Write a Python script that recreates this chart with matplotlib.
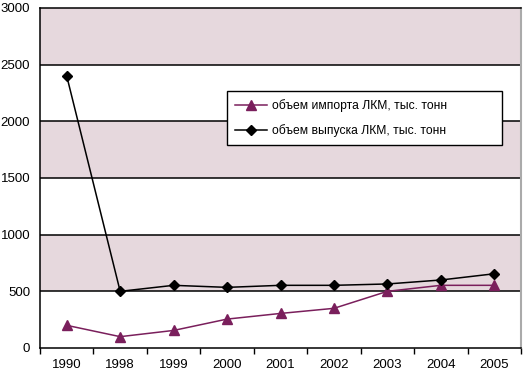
import matplotlib
matplotlib.use("Agg")
import matplotlib.pyplot as plt
from matplotlib import font_manager

years = ["1990", "1998", "1999", "2000", "2001", "2002", "2003", "2004", "2005"]
import_vals = [200, 100, 155, 255, 305, 350, 500, 553, 553]
output_vals = [2400, 500, 553, 535, 553, 553, 565, 600, 655]
import_label = "объем импорта ЛКМ, тыс. тонн"
output_label = "объем выпуска ЛКМ, тыс. тонн"
yticks = [0, 500, 1000, 1500, 2000, 2500, 3000]

names = {f.name for f in font_manager.fontManager.ttflist}
fam = "Liberation Sans Narrow" if "Liberation Sans Narrow" in names else "Liberation Sans"
plt.rcParams["font.family"] = [fam, "DejaVu Sans"]

fig = plt.figure(figsize=(5.24, 3.72), dpi=100)
top_px, bot_px = 8, 348
ax = fig.add_axes([40/524, (372 - bot_px)/372, 481/524, (bot_px - top_px)/372])

x = list(range(len(years)))
ax.set_xlim(-0.5, len(years) - 0.5)
ax.set_ylim(0, 3000)

pink = "#E6D8DD"
for lo in (500, 1500, 2500):
    ax.axhspan(lo, lo + 500, color=pink, zorder=0, lw=0)
for v in yticks[1:-1]:
    ax.axhline(v, color="black", lw=1.1, zorder=1)

ax.plot(x, import_vals, color="#7A1F5C", marker="^", markersize=7, lw=1.1,
        label=import_label, zorder=3)
ax.plot(x, output_vals, color="black", marker="D", markersize=5.5, lw=1.1,
        label=output_label, zorder=4)

ax.set_yticks(yticks)
ax.set_yticklabels([str(v) for v in yticks], fontsize=9.5)
ax.tick_params(axis="y", length=0, pad=7)
ax.set_xticks([i - 0.5 for i in range(len(years) + 1)], minor=False)
ax.set_xticklabels([""] * (len(years) + 1))
ax.set_xticks(x, minor=True)
ax.set_xticklabels(years, minor=True, fontsize=9.5)
ax.tick_params(axis="x", which="major", length=4, direction="out", width=1)
ax.tick_params(axis="x", which="minor", length=0, pad=8)

for s in ("left", "bottom", "top"):
    ax.spines[s].set_color("black")
    ax.spines[s].set_linewidth(1.1)
ax.spines["right"].set_color("#AAAAAA")
ax.spines["right"].set_linewidth(1.5)

H = bot_px - top_px
x0 = (227 - 40) / 481
w = (502 - 227) / 481
y0 = (bot_px - 144) / H
h = 53 / H
leg = ax.legend(loc="upper left", bbox_to_anchor=(x0, y0, w, h), mode="expand",
                frameon=True, fancybox=False, edgecolor="black", fontsize=8.7,
                borderpad=0.7, labelspacing=0.95, handlelength=2.6,
                handletextpad=0.4, borderaxespad=0, framealpha=1)
leg.get_frame().set_linewidth(1.0)

fig.savefig("out.png", dpi=100)
